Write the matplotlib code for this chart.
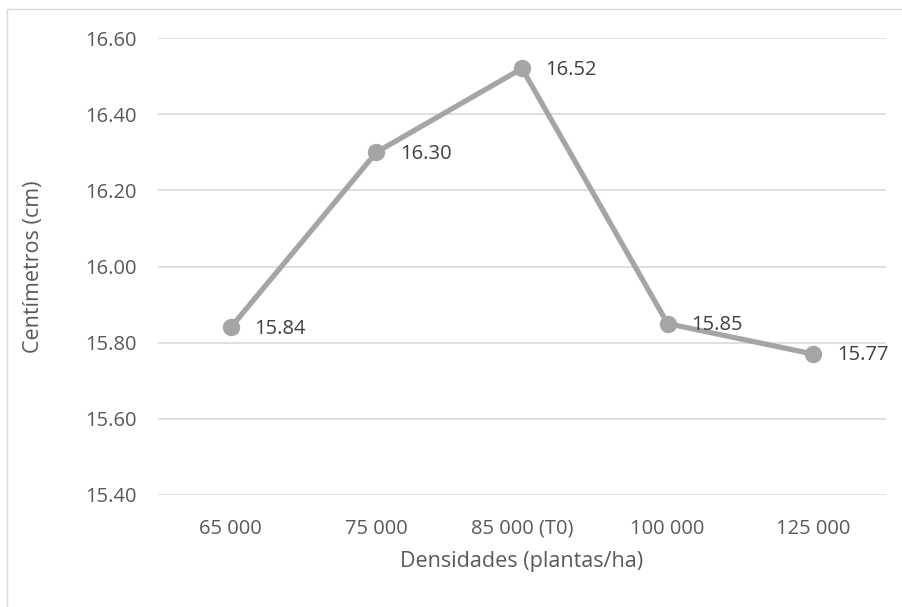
import matplotlib
matplotlib.use("Agg")
import matplotlib.pyplot as plt
from matplotlib.patches import Rectangle

categories = ["65 000", "75 000", "85 000 (T0)", "100 000", "125 000"]
values = [15.84, 16.30, 16.52, 15.85, 15.77]
yticks = [15.40, 15.60, 15.80, 16.00, 16.20, 16.40, 16.60]

plt.rcParams['font.family'] = ['Open Sans', 'DejaVu Sans']
txt = '#595959'
line_c = '#A5A5A5'
grid_c = '#D9D9D9'

fig = plt.figure(figsize=(9.02, 6.07), dpi=100)
ax = fig.add_axes([158/902, 1-495/607, (886-158)/902, (495-38)/607])

x = list(range(len(categories)))
ax.plot(x, values, color=line_c, linewidth=3.8, marker='o', markersize=11.5,
        markerfacecolor=line_c, markeredgecolor=line_c, solid_capstyle='round', zorder=3)
for xi, v in zip(x, values):
    ax.annotate(f"{v:.2f}", (xi, v), xytext=(17, -1), textcoords='offset points',
                ha='left', va='center', fontsize=14.5, color='#404040', zorder=4)

ax.set_xlim(-0.5, len(categories) - 0.5)
ax.set_ylim(15.40, 16.60)
ax.set_yticks(yticks)
ax.set_yticklabels([f"{t:.2f}" for t in yticks])
ax.set_xticks(x)
ax.set_xticklabels(categories)
ax.tick_params(axis='both', length=0, labelsize=14.5, labelcolor=txt)
ax.tick_params(axis='y', pad=15)
ax.tick_params(axis='x', pad=17)
ax.grid(axis='y', color=grid_c, linewidth=1.2)
ax.set_axisbelow(True)
for s in ax.spines.values():
    s.set_visible(False)

ax.set_xlabel("Densidades (plantas/ha)", fontsize=15.5, color=txt, labelpad=9)
ax.set_ylabel("Centímetros (cm)", fontsize=15.5, color=txt, labelpad=30)

# chart border (partially visible: left and top)
fig.add_artist(Rectangle((7.5/902, -0.01), 1.0, 1 - 9/607 + 0.01, transform=fig.transFigure,
                         fill=False, edgecolor='#D9D9D9', linewidth=1.0))

fig.savefig("out.png", dpi=100, facecolor='white')
